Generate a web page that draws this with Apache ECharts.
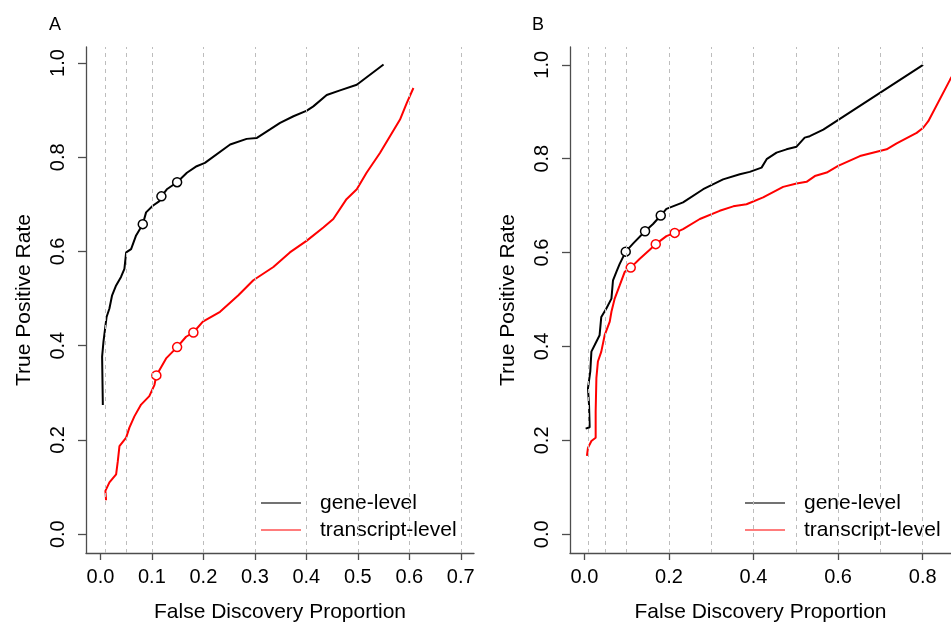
<!DOCTYPE html>
<html>
<head>
<meta charset="utf-8">
<script src="https://cdn.jsdelivr.net/npm/echarts@6/dist/echarts.min.js"></script>
<style>
  html, body { margin: 0; padding: 0; background: #fff; }
  #main { width: 951px; height: 628px; }
</style>
</head>
<body>
<div id="main"></div>
<script>
// panel A : [false discovery proportion, true positive rate]
var geneA = [
  [0.0047, 0.274], [0.0033, 0.377], [0.006, 0.409], [0.012, 0.461], [0.0175, 0.479],
  [0.0227, 0.507], [0.0305, 0.528], [0.040, 0.546], [0.0466, 0.563], [0.050, 0.598],
  [0.0596, 0.605], [0.0693, 0.634], [0.0823, 0.658], [0.0887, 0.683], [0.1017, 0.697],
  [0.1146, 0.707], [0.1185, 0.717], [0.129, 0.732], [0.149, 0.747], [0.168, 0.767],
  [0.187, 0.781], [0.203, 0.788], [0.252, 0.827], [0.284, 0.839], [0.304, 0.841],
  [0.3295, 0.859], [0.349, 0.873], [0.375, 0.887], [0.401, 0.899], [0.4136, 0.908],
  [0.4396, 0.932], [0.4654, 0.942], [0.498, 0.954], [0.55, 0.997]
];
var txA = [
  [0.011, 0.072], [0.0097, 0.092], [0.0175, 0.110], [0.0305, 0.127], [0.0338, 0.155],
  [0.037, 0.187], [0.050, 0.205], [0.0563, 0.226], [0.066, 0.250], [0.079, 0.275],
  [0.095, 0.293], [0.105, 0.317], [0.1087, 0.337], [0.1276, 0.373], [0.149, 0.397],
  [0.1664, 0.419], [0.1806, 0.428], [0.199, 0.451], [0.2324, 0.472], [0.268, 0.507],
  [0.297, 0.539], [0.336, 0.567], [0.368, 0.598], [0.401, 0.623], [0.433, 0.651],
  [0.4524, 0.669], [0.478, 0.711], [0.498, 0.732], [0.517, 0.767], [0.543, 0.809],
  [0.5625, 0.8445], [0.582, 0.880], [0.595, 0.915], [0.608, 0.947]
];
var geneACircles = [[0.0823, 0.658], [0.1185, 0.717], [0.149, 0.747]];
var txACircles = [[0.1087, 0.337], [0.149, 0.397], [0.1806, 0.428]];

// panel B
var geneB = [
  [0.003, 0.225], [0.0125, 0.228], [0.011, 0.276], [0.0085, 0.311], [0.014, 0.347],
  [0.0166, 0.389], [0.0244, 0.403], [0.036, 0.424], [0.040, 0.463], [0.052, 0.481],
  [0.064, 0.502], [0.0677, 0.541], [0.0757, 0.559], [0.0835, 0.576], [0.0978, 0.602],
  [0.115, 0.619], [0.1435, 0.6455], [0.1624, 0.661], [0.1806, 0.679], [0.194, 0.693],
  [0.2334, 0.707], [0.281, 0.735], [0.328, 0.756], [0.3676, 0.767], [0.391, 0.772],
  [0.419, 0.781], [0.431, 0.799], [0.4544, 0.813], [0.478, 0.820], [0.5018, 0.8256],
  [0.521, 0.845], [0.533, 0.848], [0.565, 0.862], [0.801, 1.0]
];
var txB = [
  [0.006, 0.167], [0.0085, 0.184], [0.0166, 0.1985], [0.0267, 0.2055], [0.0267, 0.262],
  [0.0284, 0.3326], [0.032, 0.368], [0.040, 0.389], [0.048, 0.424], [0.060, 0.453],
  [0.064, 0.474], [0.0717, 0.502], [0.0835, 0.530], [0.0954, 0.559], [0.1096, 0.568],
  [0.131, 0.587], [0.1546, 0.606], [0.1688, 0.618], [0.194, 0.635], [0.2137, 0.642],
  [0.2334, 0.650], [0.273, 0.6716], [0.320, 0.689], [0.352, 0.6985], [0.3834, 0.703],
  [0.4227, 0.7176], [0.470, 0.740], [0.5018, 0.747], [0.5254, 0.7507], [0.545, 0.763],
  [0.573, 0.7705], [0.600, 0.7846], [0.6516, 0.8057], [0.7148, 0.820], [0.7385, 0.8326],
  [0.7858, 0.855], [0.8014, 0.866], [0.8133, 0.880], [0.8646, 0.968], [0.875, 0.985]
];
var geneBCircles = [[0.0978, 0.602], [0.1435, 0.6455], [0.1806, 0.679]];
var txBCircles = [[0.1096, 0.568], [0.1688, 0.618], [0.2137, 0.642]];

var fdrLinesA = [0.01, 0.05, 0.1, 0.2, 0.3, 0.4, 0.5, 0.6, 0.7];
var fdrLinesB = [0.01, 0.05, 0.1, 0.2, 0.3, 0.4, 0.5, 0.6, 0.7, 0.8];
var xTicksA = [0, 0.1, 0.2, 0.3, 0.4, 0.5, 0.6, 0.7];
var xTicksB = [0, 0.2, 0.4, 0.6, 0.8];
var yTicks = [0, 0.2, 0.4, 0.6, 0.8, 1.0];

var FONT = 'Liberation Sans, Arial, sans-serif';
var AXIS_GREY = '#4d4d4d';

function xAxisFor(idx, min, max, ticks) {
  return {
    type: 'value', gridIndex: idx, min: min, max: max,
    name: 'False Discovery Proportion', nameLocation: 'middle', nameGap: 49,
    nameTextStyle: { fontFamily: FONT, fontSize: 21, color: '#000' },
    axisLine: { onZero: false, lineStyle: { color: AXIS_GREY, width: 1.3 } },
    axisTick: { customValues: ticks, length: 7, lineStyle: { color: AXIS_GREY, width: 1.3 } },
    axisLabel: {
      customValues: ticks, margin: 14, fontFamily: FONT, fontSize: 20, color: '#000',
      formatter: function (v) { return v.toFixed(1); }
    },
    splitLine: { show: false }
  };
}

function yAxisFor(idx, min, max) {
  return {
    type: 'value', gridIndex: idx, min: min, max: max,
    name: 'True Positive Rate', nameLocation: 'middle', nameGap: 51, nameRotate: 90,
    nameTextStyle: { fontFamily: FONT, fontSize: 21, color: '#000' },
    axisLine: { onZero: false, lineStyle: { color: AXIS_GREY, width: 1.3 } },
    axisTick: { customValues: yTicks, length: 8, lineStyle: { color: AXIS_GREY, width: 1.3 } },
    axisLabel: {
      customValues: yTicks, rotate: 90, margin: 18, fontFamily: FONT, fontSize: 20, color: '#000',
      formatter: function (v) { return v.toFixed(1); }
    },
    splitLine: { show: false }
  };
}

function curve(name, idx, data, color) {
  return {
    name: name, type: 'line', xAxisIndex: idx, yAxisIndex: idx, data: data,
    showSymbol: false, symbol: 'none', smooth: false,
    lineStyle: { color: color, width: 2 }, itemStyle: { color: color },
    z: 3, silent: true
  };
}

function circles(idx, data, color) {
  return {
    type: 'scatter', xAxisIndex: idx, yAxisIndex: idx, data: data,
    symbol: 'circle', symbolSize: 9,
    itemStyle: { color: '#fff', borderColor: color, borderWidth: 1.5, opacity: 1 },
    z: 4, silent: true
  };
}

function fdrLines(idx, xs) {
  return {
    type: 'line', xAxisIndex: idx, yAxisIndex: idx, data: [], silent: true,
    markLine: {
      symbol: 'none', silent: true, animation: false,
      label: { show: false },
      lineStyle: { color: '#bdbdbd', type: [4, 4], width: 1 },
      data: xs.map(function (x) { return { xAxis: x }; })
    },
    z: 1
  };
}

function legendFor(left) {
  return {
    orient: 'vertical', left: left, top: 492, padding: 0,
    icon: 'rect', itemWidth: 40, itemHeight: 1.5, itemGap: 5,
    textStyle: { fontFamily: FONT, fontSize: 21, color: '#000', lineHeight: 22, padding: [0, 0, 0, 14] },
    data: [
      { name: 'gene-level', itemStyle: { color: '#444' } },
      { name: 'transcript-level', itemStyle: { color: '#ff5050' } }
    ],
    selectedMode: false
  };
}

var chart = echarts.init(document.getElementById('main'), null, { renderer: 'canvas' });

var option = {
  animation: false,
  backgroundColor: '#fff',
  title: [
    { text: 'A', left: 44, top: 11, textStyle: { fontFamily: FONT, fontSize: 18, fontWeight: 'normal', color: '#000' } },
    { text: 'B', left: 527, top: 11, textStyle: { fontFamily: FONT, fontSize: 18, fontWeight: 'normal', color: '#000' } }
  ],
  grid: [
    { left: 86, top: 47, width: 388, height: 509 },
    { left: 570, top: 47, width: 381, height: 509 }
  ],
  legend: [legendFor(261), legendFor(745)],
  xAxis: [
    xAxisFor(0, -0.028, 0.7257, xTicksA),
    xAxisFor(1, -0.034, 0.867, xTicksB)
  ],
  yAxis: [
    yAxisFor(0, -0.04, 1.034),
    yAxisFor(1, -0.04, 1.038)
  ],
  series: [
    fdrLines(0, fdrLinesA),
    fdrLines(1, fdrLinesB),
    curve('gene-level', 0, geneA, '#000'),
    curve('transcript-level', 0, txA, '#ff0000'),
    circles(0, geneACircles, '#000'),
    circles(0, txACircles, '#ff0000'),
    curve('gene-level', 1, geneB, '#000'),
    curve('transcript-level', 1, txB, '#ff0000'),
    circles(1, geneBCircles, '#000'),
    circles(1, txBCircles, '#ff0000')
  ]
};

chart.setOption(option);
</script>
</body>
</html>
